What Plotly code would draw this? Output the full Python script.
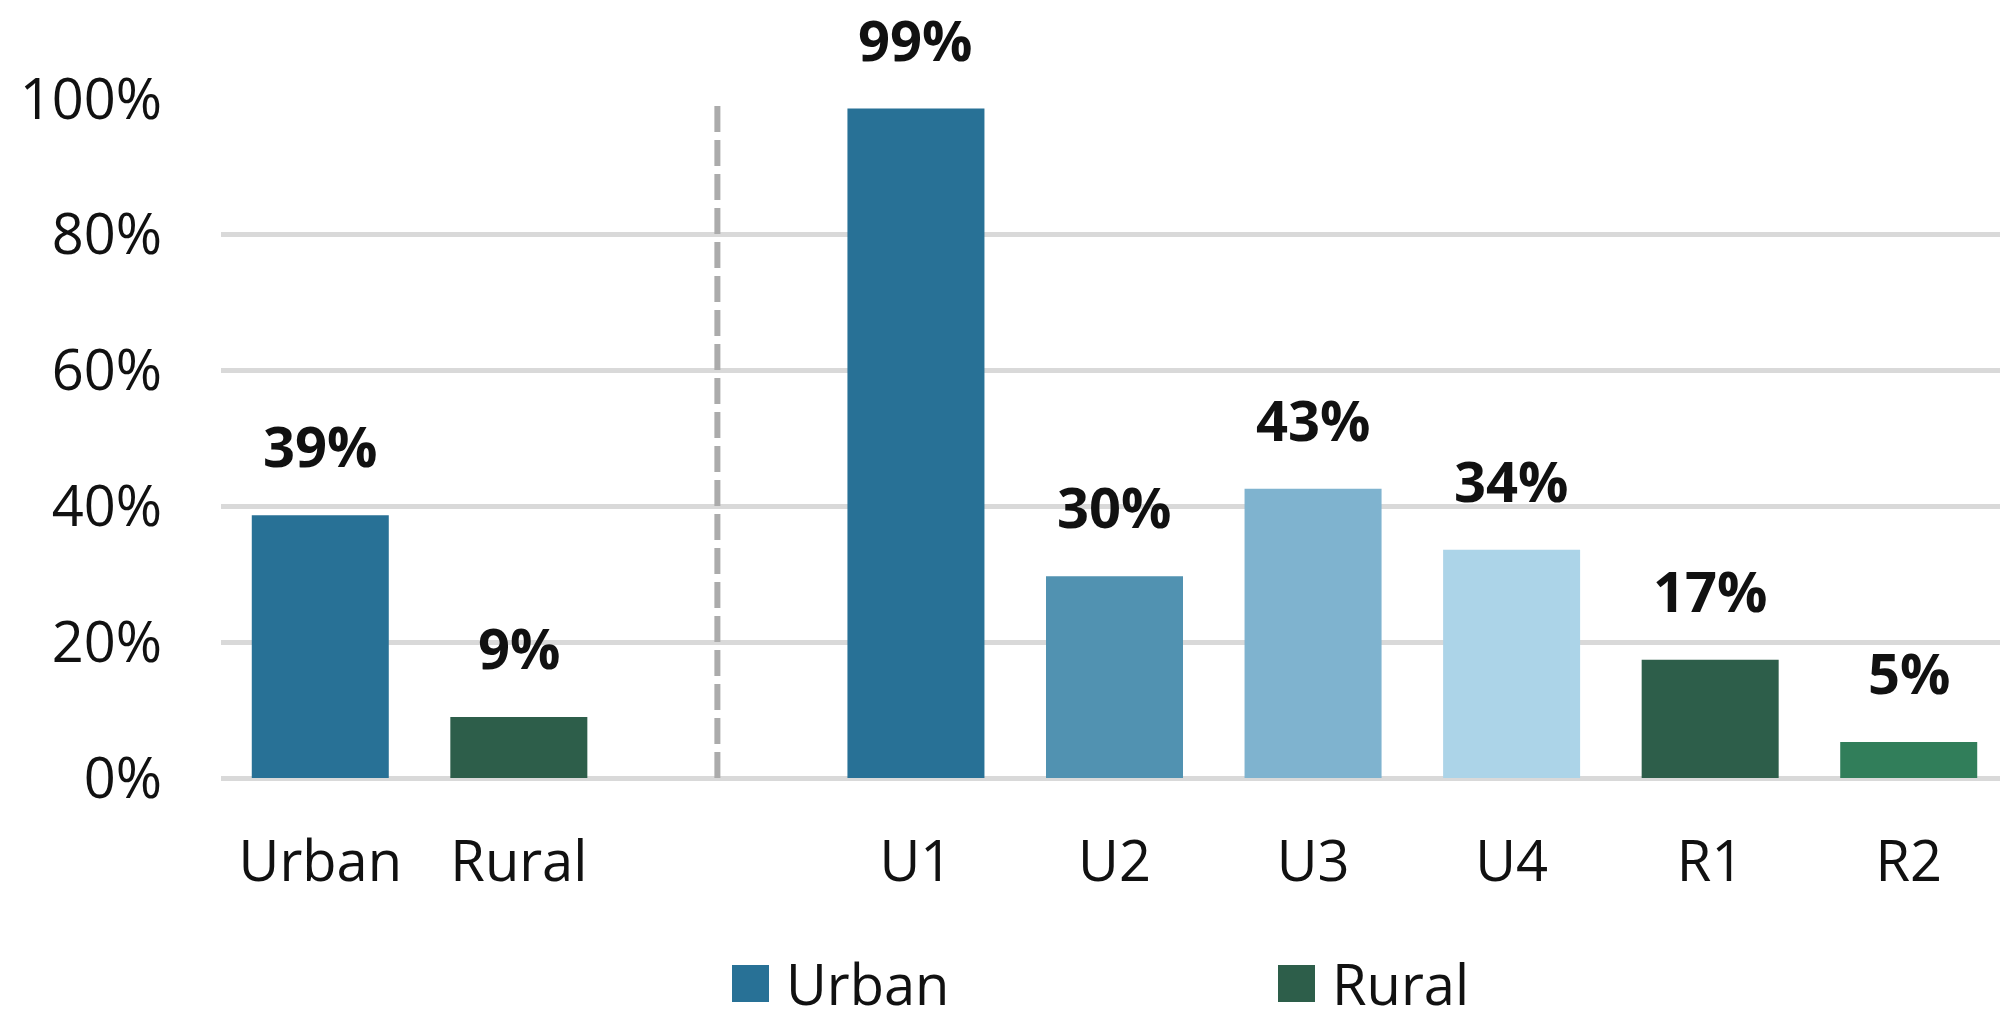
import plotly.graph_objects as go

# ---- data -------------------------------------------------------------
categories = ["Urban", "Rural", " ", "U1", "U2", "U3", "U4", "R1", "R2"]
values = [0.387, 0.09, None, 0.986, 0.297, 0.426, 0.336, 0.174, 0.053]
bar_colors = ["#287196", "#2d5e4a", "#ffffff", "#287196", "#5192b1",
              "#7fb3cf", "#acd4e8", "#2d5e4a", "#317e5a"]
divider_category = " "

legend_names = ["Urban", "Rural"]
legend_colors = ["#287196", "#2d5e4a"]

y_ticks = [0, 0.2, 0.4, 0.6, 0.8, 1.0]

# ---- geometry ---------------------------------------------------------
# the page body has an 8px margin, so the figure is shrunk by that much
PAGE_W, PAGE_H = 2008, 1018
BODY = 8
W, H = PAGE_W - BODY, PAGE_H - BODY
M_L, M_R, M_T, M_B = 221 - BODY, 0, 99 - BODY, 240
FONT = "Open Sans"
TEXT = "#111111"


def px_x(px):
    # page pixel -> paper x
    return (px - BODY - M_L) / (W - M_L - M_R)


def px_y(py):
    # page pixel -> paper y
    return (H - M_B - (py - BODY)) / (H - M_T - M_B)


fig = go.Figure()
fig.add_trace(
    go.Bar(
        x=categories,
        y=values,
        width=0.69,
        marker=dict(color=bar_colors, line=dict(width=0)),
        showlegend=False,
        hoverinfo="skip",
    )
)

# value labels above each bar
annotations = []
for cat, val in zip(categories, values):
    if val is None:
        continue
    annotations.append(
        dict(
            x=cat, y=val, xref="x", yref="y",
            text=f"<b>{val:.0%}</b>",
            showarrow=False, yanchor="bottom", yshift=30,
            font=dict(family=FONT, size=56, color=TEXT),
        )
    )

# manual legend with large square swatches
shapes = []
legend_x = [732, 1278]
for name, color, lx in zip(legend_names, legend_colors, legend_x):
    shapes.append(
        dict(type="rect", xref="paper", yref="paper",
             x0=px_x(lx), x1=px_x(lx + 37), y0=px_y(1002), y1=px_y(965),
             fillcolor=color, line=dict(width=0))
    )
    annotations.append(
        dict(x=px_x(lx + 52), y=px_y(983), xref="paper", yref="paper",
             text=name, showarrow=False, xanchor="left", yanchor="middle",
             font=dict(family=FONT, size=56, color=TEXT))
    )

# dashed divider between the summary and detailed groups
div_idx = categories.index(divider_category)
shapes.append(
    dict(type="line", xref="x", yref="y", x0=div_idx, x1=div_idx, y0=0, y1=0.99,
         line=dict(color="#ababab", width=6, dash="26px,8px"), layer="above")
)

fig.update_layout(
    width=W,
    height=H,
    margin=dict(l=M_L, r=M_R, t=M_T, b=M_B),
    paper_bgcolor="white",
    plot_bgcolor="white",
    font=dict(family=FONT, size=56, color=TEXT),
    shapes=shapes,
    annotations=annotations,
    xaxis=dict(
        type="category",
        categoryorder="array",
        categoryarray=categories,
        range=[-0.5, len(categories) - 0.5],
        showgrid=False,
        showline=False,
        ticks="",
        ticklabelstandoff=46,
        tickfont=dict(family=FONT, size=56, color=TEXT),
    ),
    yaxis=dict(
        range=[0, 1.0],
        tickvals=y_ticks,
        tickformat=".0%",
        showgrid=True,
        gridcolor="#d9d9d9",
        gridwidth=5,
        zeroline=True,
        zerolinecolor="#d9d9d9",
        zerolinewidth=5,
        showline=False,
        ticks="",
        ticklabelstandoff=58,
        tickfont=dict(family=FONT, size=56, color=TEXT),
    ),
)

fig.write_html("out.html")
